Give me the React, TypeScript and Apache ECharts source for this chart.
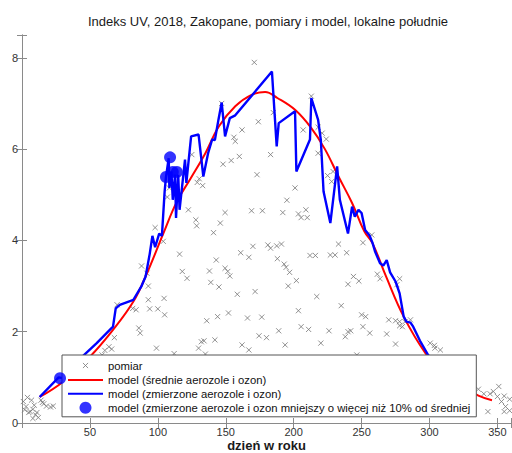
import React, { useEffect, useRef } from "react";
import * as echarts from "echarts";

const TITLE = "Indeks UV, 2018, Zakopane, pomiary i model, lokalne południe";
const X_NAME = "dzień w roku";
const NAMES = [
  "pomiar",
  "model (średnie aerozole i ozon)",
  "model (zmierzone aerozole i ozon)",
  "model (zmierzone aerozole i ozon mniejszy o więcej niż 10% od średniej",
];

// measured UV index (day of year, value)
const pomiar: [number, number][] = [
  [1, 0.47], [2, 0.29], [3, 0.36], [4, 0.56], [5, 0.23], [6, 0.25], [7, 0.5], [8, 0.3], [8, 0.1],
  [9, 0.39], [10, 0.18], [11, 0.23], [12, 0.12], [14, 0.5], [15, 0.45], [16, 0.42], [18, 0.37],
  [21, 0.35], [23, 0.37],
  [59, 1.49], [61, 1.59], [64, 1.67], [66, 1.62], [68, 1.87], [70, 2.59], [81.5, 2.51], [84, 2.48],
  [86, 2.08], [87, 1.97], [88, 3.44], [92, 3.28], [93, 3.0], [93, 2.7], [94, 2.5], [98, 4.28],
  [99, 1.64], [100, 2.5], [104, 3.98], [104.6, 2.73], [105, 2.37], [107, 4.95], [108.5, 5.15],
  [112, 1.52], [116, 3.7], [118, 3.32], [121.5, 3.17], [122.5, 4.67], [125, 5.88], [128, 4.45],
  [128.6, 4.32], [129, 5.27], [130.5, 5.35], [133, 5.2], [130, 1.64], [132, 1.78], [134, 1.8],
  [135, 1.51], [136, 2.24], [138, 3.33], [139, 3.08], [141, 4.17], [142, 1.82], [143, 3.57],
  [144, 2.33], [145, 2.98], [146, 4.38], [147, 7.0], [148, 5.67], [149.5, 4.61], [149.5, 3.39],
  [151.5, 3.32], [152, 2.41], [153, 3.22], [154, 5.75], [156, 6.26], [157, 6.17], [158.5, 2.82],
  [160, 5.84], [161, 3.73], [162, 6.42], [162, 1.71], [166, 2.3], [167, 3.63], [167, 1.6],
  [169, 4.65], [170, 3.87], [171, 7.9], [171.6, 2.88], [173, 5.44], [174, 6.6], [174.5, 1.91],
  [176.5, 2.32], [177, 4.65], [180, 1.87], [181, 3.9], [183, 3.83], [183, 5.88], [185, 6.8],
  [187.5, 3.88], [188, 3.6], [189, 2.02], [191, 3.92], [192, 4.61], [193, 3.48], [193.7, 1.71],
  [194.4, 3.41], [195, 4.88], [196, 3.0], [197, 3.3], [201, 5.15], [202, 3.12], [203.5, 4.58],
  [203.5, 2.46], [205.5, 4.5], [205.5, 2.11], [207, 6.42], [209, 4.67], [210, 4.5], [211, 2.05],
  [212, 3.67], [213, 7.16], [216, 3.67], [217, 2.77], [218, 6.48], [218, 5.91], [220, 1.75],
  [221, 6.35], [224, 6.22], [225, 5.42], [226, 2.02], [227, 3.68], [228, 5.29], [229, 5.51],
  [230.5, 3.68], [233, 3.92], [235, 2.57], [238, 1.89], [239, 3.73], [240, 3.04], [240, 2.0],
  [242, 2.02], [244, 3.21], [246.5, 1.49], [248, 3.11], [250, 2.37], [251, 3.95], [251, 2.11],
  [253, 2.33], [256, 1.97], [257.5, 4.12], [261.6, 3.26], [263.6, 3.16], [268.5, 1.95],
  [270, 2.26], [275, 2.24], [275, 1.73], [276, 3.03], [278, 3.16], [278, 2.22], [278, 2.13],
  [280, 2.11], [282, 2.22], [286, 2.26], [300.5, 1.75], [303.6, 1.7], [304, 1.64], [308, 1.6],
  [336, 0.74], [340, 0.64], [343, 0.25], [344.6, 0.64], [347, 0.69], [350, 0.58], [351, 0.8],
  [353, 0.47], [355, 0.59], [355, 0.25], [356, 0.36], [359, 0.52], [359, 0.27],
];

// model with mean aerosols and ozone
const modelMean: [number, number][] = [
  [13, 0.57], [30, 0.9], [50, 1.45], [67, 2.04], [82, 2.66], [92, 3.28], [104, 4.15], [114, 4.85],
  [124, 5.35], [135, 5.91], [145, 6.5], [157, 6.94], [169, 7.19], [179, 7.25], [188, 7.12],
  [201, 6.86], [213, 6.46], [223, 6.0], [233, 5.4], [243, 4.82], [252, 4.2], [258, 3.94],
  [268, 3.21], [281, 2.33], [297, 1.53], [310, 1.1], [325, 0.8], [336, 0.6], [346, 0.5],
];

// model with measured aerosols and ozone
const modelMeas: [number, number][] = [
  [13, 0.57], [27, 1.0], [32, 0.97], [45, 1.47], [55, 1.75], [67, 2.11], [69, 2.51], [72, 2.59],
  [82, 2.7], [88, 3.0], [91, 3.21], [94, 3.7], [96, 4.1], [98, 3.85], [101, 4.15], [103, 4.1],
  [105, 5.07], [106, 5.39], [108, 5.8], [108.5, 5.15], [110, 5.51], [111, 4.89], [112.7, 5.44],
  [113.4, 4.49], [115, 5.44], [116, 4.67], [120, 5.77], [121, 5.26], [124.5, 6.28], [130, 6.32],
  [133.5, 5.4], [137, 5.91], [140, 6.21], [142, 6.2], [144.6, 6.64], [147, 7.02], [149.5, 6.28],
  [153, 6.68], [157, 6.74], [184, 7.7], [187.5, 6.06], [189, 6.57], [201, 6.83], [202, 5.51],
  [212, 6.21], [213, 7.12], [218, 6.64], [220, 6.2], [222, 5.07], [227, 4.38], [232, 5.62],
  [234, 4.89], [240, 4.15], [243, 4.74], [245, 4.52], [247.7, 4.67], [250, 4.6], [252.6, 4.23],
  [256, 4.1], [258, 3.95], [260, 3.75], [263.6, 3.5], [266, 3.45], [268.5, 3.57], [271, 3.3],
  [275, 3.1], [278, 2.84], [280, 2.5], [281, 2.33], [283, 2.22], [286, 2.2], [288, 2.11],
  [293, 1.8], [299, 1.49], [308, 1.15], [318, 0.9],
];

// days where measured-aerosol model is >10% below mean model
const lowDays: [number, number][] = [
  [28, 0.98], [106, 5.39], [109, 5.82], [111, 5.5], [114, 5.5],
];

const FONT = "'Liberation Sans', Arial, Helvetica, sans-serif";
const AXIS_COLOR = "#8a8a8a";
const X_SYMBOL = "path://M0 0L0 0M4 4L10 10M10 4L4 10M14 14L14 14";

export default function App() {
  const ref = useRef<HTMLDivElement>(null);
  useEffect(() => {
    if (!ref.current) return;
    const chart = echarts.init(ref.current, undefined, { renderer: "svg" });
    const tickCommon = { inside: true, length: 5, lineStyle: { color: AXIS_COLOR } };
    const lineCommon = { show: true, lineStyle: { color: AXIS_COLOR, width: 1 } };
    chart.setOption({
      animation: false,
      backgroundColor: "#ffffff",
      textStyle: { fontFamily: FONT },
      title: {
        text: TITLE,
        left: 268,
        textAlign: "center",
        top: 15,
        padding: 0,
        textStyle: { fontSize: 13, fontWeight: "normal", color: "#1a1a1a", fontFamily: FONT },
      },
      grid: {
        left: 22,
        right: 1,
        top: 35,
        bottom: 30,
        containLabel: false,
        outerBoundsMode: "none",
      },
      legend: {
        orient: "vertical",
        left: 62,
        top: 355,
        z: 20,
        padding: [4, 6, 3, 5],
        itemWidth: 35,
        itemHeight: 12,
        itemGap: 2.6,
        backgroundColor: "#ffffff",
        borderColor: "#555",
        borderWidth: 1,
        borderRadius: 0,
        selectedMode: false,
        textStyle: { fontSize: 11.3, color: "#111", fontFamily: FONT },
        data: [
          { name: NAMES[0], itemStyle: { color: "rgba(0,0,0,0)", borderColor: "#777", borderWidth: 1 } },
          { name: NAMES[1], itemStyle: { opacity: 0 } },
          { name: NAMES[2], itemStyle: { opacity: 0 } },
          { name: NAMES[3] },
        ],
      },
      xAxis: [
        {
          type: "value",
          min: 0,
          max: 360,
          interval: 50,
          position: "bottom",
          axisLine: lineCommon,
          axisTick: tickCommon,
          splitLine: { show: false },
          axisLabel: {
            fontSize: 11,
            color: "#333",
            margin: 3,
            formatter: (v: number) => (v > 0 && v % 50 === 0 && v <= 350 ? String(v) : ""),
          },
          name: X_NAME,
          nameLocation: "middle",
          nameGap: 16,
          nameMoveOverlap: false,
          nameTextStyle: {
            fontSize: 13,
            lineHeight: 13,
            fontWeight: "bold",
            color: "#1a1a1a",
            fontFamily: FONT,
          },
        },
        {
          type: "value",
          min: 0,
          max: 360,
          interval: 50,
          position: "top",
          axisLine: lineCommon,
          axisTick: tickCommon,
          splitLine: { show: false },
          axisLabel: { show: false },
        },
      ],
      yAxis: [
        {
          type: "value",
          min: 0,
          max: 8.5,
          interval: 2,
          position: "left",
          axisLine: lineCommon,
          axisTick: tickCommon,
          splitLine: { show: false },
          axisLabel: {
            fontSize: 11,
            color: "#333",
            margin: 4,
            formatter: (v: number) => (v % 2 === 0 ? String(v) : ""),
          },
        },
        {
          type: "value",
          min: 0,
          max: 8.5,
          interval: 2,
          position: "right",
          axisLine: lineCommon,
          axisTick: tickCommon,
          splitLine: { show: false },
          axisLabel: { show: false },
        },
      ],
      series: [
        {
          name: NAMES[0],
          type: "scatter",
          data: pomiar,
          symbol: X_SYMBOL,
          symbolSize: 12,
          itemStyle: { color: "rgba(0,0,0,0)", borderColor: "#777", borderWidth: 1 },
          silent: true,
          z: 2,
        },
        {
          name: NAMES[1],
          type: "line",
          data: modelMean,
          smooth: 0.4,
          symbol: "none",
          showSymbol: false,
          lineStyle: { color: "#ff0000", width: 2 },
          itemStyle: { color: "#ff0000" },
          silent: true,
          z: 3,
        },
        {
          name: NAMES[2],
          type: "line",
          data: modelMeas,
          symbol: "none",
          showSymbol: false,
          lineStyle: { color: "#0000ff", width: 2.4 },
          itemStyle: { color: "#0000ff" },
          silent: true,
          z: 4,
        },
        {
          name: NAMES[3],
          type: "scatter",
          data: lowDays,
          symbol: "circle",
          symbolSize: 12,
          itemStyle: { color: "#0000ff" },
          silent: true,
          z: 30,
        },
      ],
    });
    return () => chart.dispose();
  }, []);
  return (
    <div
      ref={ref}
      style={{ position: "fixed", left: 0, top: 0, width: 512, height: 453, background: "#fff" }}
    />
  );
}
